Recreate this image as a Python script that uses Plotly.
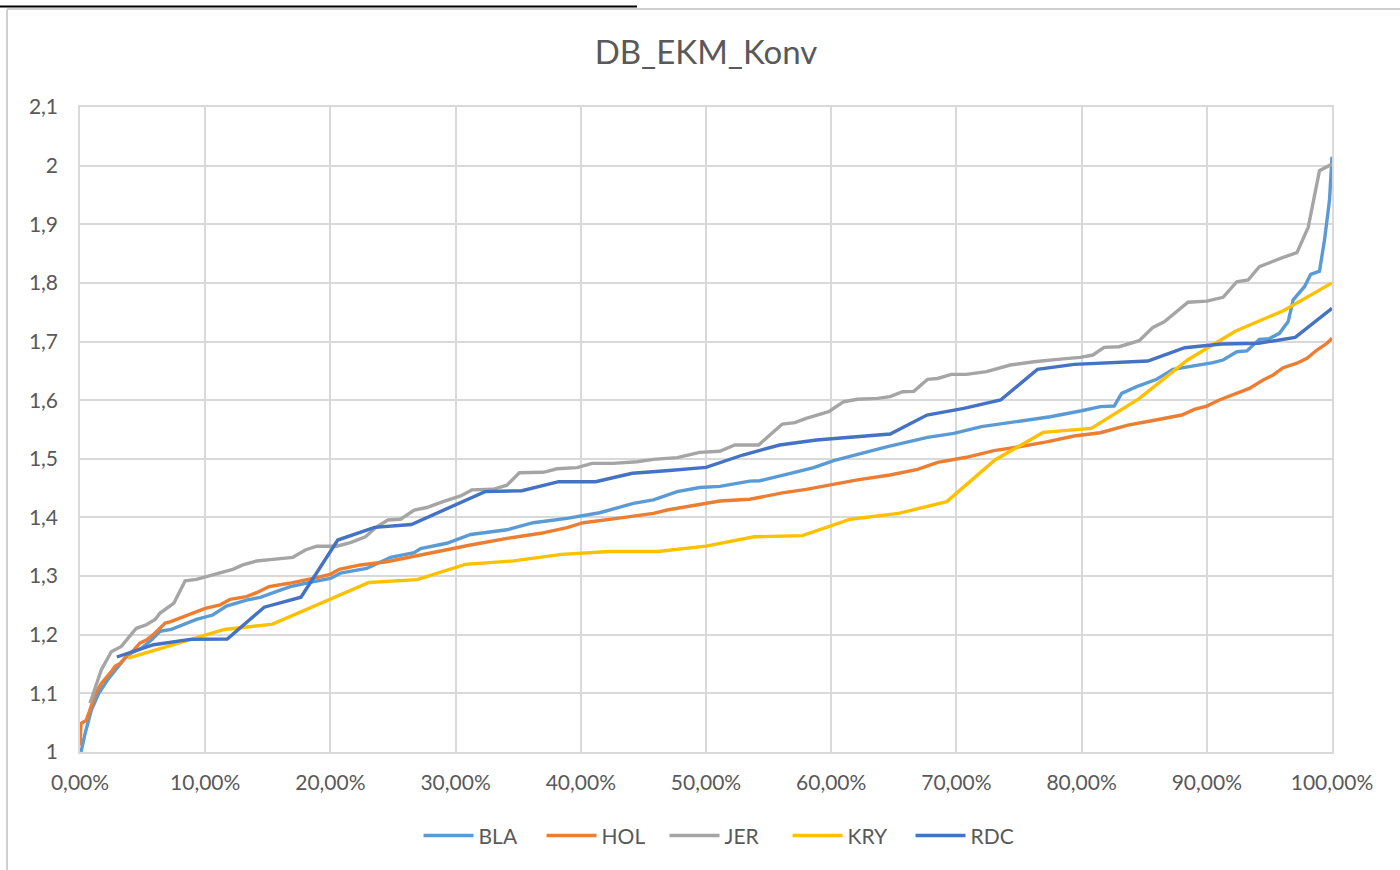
import plotly.graph_objects as go

# ---- data (x in percent, y values) ----
bla_x = [0.08, 0.4, 0.9, 1.5, 2.3, 3.1, 3.6, 4.1, 4.9, 5.7, 6.4, 7.3, 9.3, 10.6, 11.7, 13.3, 14.4, 16.0,
         16.8, 18.6, 20.0, 20.8, 22.9, 24.8, 26.7, 27.2, 29.3, 31.2, 34.1, 36.2, 38.9, 41.5, 44.2, 45.8,
         47.7, 49.5, 51.1, 53.5, 54.3, 56.5, 58.6, 60.2, 62.1, 64.5, 67.7, 69.8, 72.0, 75.1, 77.5, 80.0,
         81.5, 82.6, 83.2, 84.4, 86.0, 87.3, 88.7, 90.5, 91.3, 92.4, 93.2, 94.2, 95.0, 95.8, 96.5, 96.9,
         97.8, 98.3, 99.0, 99.4, 99.8, 100.0]
bla_y = [1.0, 1.031, 1.071, 1.1, 1.126, 1.146, 1.16, 1.169, 1.177, 1.191, 1.206, 1.209, 1.226, 1.2336,
         1.249, 1.259, 1.2638, 1.276, 1.282, 1.2904, 1.296, 1.305, 1.313, 1.332, 1.34, 1.347, 1.356, 1.371,
         1.379, 1.391, 1.3985, 1.408, 1.424, 1.43, 1.444, 1.451, 1.453, 1.462, 1.4627, 1.474, 1.485, 1.497,
         1.508, 1.5207, 1.5366, 1.5435, 1.5548, 1.565, 1.5718, 1.582, 1.589, 1.59, 1.6117, 1.623, 1.6356,
         1.6526, 1.657, 1.664, 1.6685, 1.6826, 1.684, 1.7038, 1.705, 1.714, 1.734, 1.771, 1.7935, 1.8146,
         1.82, 1.873, 1.941, 2.015]

hol_x = [0.0, 0.08, 0.5, 0.9, 1.25, 1.7, 2.1, 2.5, 2.8, 3.2, 3.7, 4.3, 4.8, 5.3, 6.0, 6.8, 7.2, 8.2, 9.0,
         10.0, 11.2, 12.0, 13.3, 14.1, 15.1, 16.7, 18.6, 20.0, 20.7, 22.4, 24.5, 26.7, 29.3, 31.2, 34.1,
         36.8, 38.9, 40.2, 42.9, 45.8, 46.9, 50.0, 51.1, 53.5, 56.1, 58.0, 60.2, 62.1, 64.7, 66.9, 68.5,
         70.8, 73.0, 75.1, 77.2, 79.4, 81.5, 83.7, 85.5, 88.0, 89.0, 90.0, 91.0, 92.4, 93.4, 94.5, 95.3,
         96.1, 97.2, 98.0, 98.8, 99.6, 100.0]
hol_y = [1.011, 1.0486, 1.054, 1.08, 1.1, 1.117, 1.126, 1.137, 1.146, 1.151, 1.163, 1.174, 1.186, 1.191,
         1.203, 1.22, 1.222, 1.23, 1.236, 1.245, 1.251, 1.2604, 1.265, 1.2717, 1.282, 1.2877, 1.296, 1.303,
         1.3115, 1.319, 1.3245, 1.334, 1.3445, 1.353, 1.3644, 1.373, 1.3825, 1.391, 1.3985, 1.407, 1.4127,
         1.424, 1.428, 1.431, 1.442, 1.448, 1.457, 1.464, 1.4724, 1.482, 1.494, 1.5026, 1.514, 1.5207,
         1.529, 1.5389, 1.5445, 1.5576, 1.5645, 1.5747, 1.5844, 1.59, 1.6003, 1.6127, 1.62, 1.6344, 1.643,
         1.6554, 1.663, 1.6714, 1.6855, 1.697, 1.7055]

jer_x = [0.8, 1.2, 1.7, 2.5, 3.3, 4.5, 5.3, 6.0, 6.4, 7.5, 8.4, 9.3, 10.1, 11.2, 12.2, 13.0, 14.1, 15.4,
         17.0, 18.0, 18.9, 20.5, 21.6, 22.8, 23.7, 24.6, 25.6, 26.7, 27.7, 29.0, 30.4, 31.3, 33.0, 34.1,
         35.1, 37.0, 38.1, 39.7, 40.9, 42.6, 44.5, 45.8, 47.7, 49.5, 51.1, 52.3, 54.2, 55.1, 56.1, 57.1,
         58.0, 59.8, 61.0, 62.1, 63.7, 64.7, 65.7, 66.6, 67.7, 68.5, 69.6, 70.8, 72.4, 74.3, 76.2, 78.3,
         79.9, 80.9, 81.8, 83.0, 84.6, 85.7, 86.6, 88.5, 90.0, 91.3, 92.4, 93.3, 94.2, 96.1, 97.2, 98.1,
         99.0, 100.0]
jer_y = [1.083, 1.109, 1.14, 1.171, 1.18, 1.211, 1.217, 1.226, 1.237, 1.254, 1.292, 1.2945, 1.299, 1.3065,
         1.3115, 1.319, 1.3257, 1.3286, 1.332, 1.3445, 1.351, 1.351, 1.357, 1.367, 1.384, 1.3956, 1.397,
         1.4127, 1.417, 1.427, 1.4366, 1.447, 1.448, 1.455, 1.4763, 1.477, 1.483, 1.485, 1.4923, 1.4923,
         1.495, 1.499, 1.502, 1.511, 1.513, 1.5235, 1.5235, 1.5406, 1.5593, 1.5616, 1.569, 1.5803, 1.5974,
         1.6015, 1.603, 1.606, 1.6144, 1.615, 1.6356, 1.637, 1.644, 1.644, 1.6486, 1.66, 1.6656, 1.670,
         1.673, 1.677, 1.690, 1.6912, 1.7014, 1.7242, 1.7338, 1.767, 1.769, 1.7754, 1.802, 1.805, 1.8276,
         1.8436, 1.8515, 1.8948, 1.9913, 2.0027]

kry_x = [3.85, 7.69, 11.54, 15.38, 19.23, 23.08, 26.92, 30.77, 34.62, 38.46, 42.31, 46.15, 50.00, 53.85,
         57.69, 61.54, 65.38, 69.23, 73.08, 76.92, 80.77, 84.62, 88.46, 92.31, 96.15, 100.0]
kry_y = [1.16, 1.185, 1.209, 1.218, 1.254, 1.289, 1.294, 1.320, 1.326, 1.337, 1.342, 1.342, 1.351, 1.367,
         1.369, 1.397, 1.407, 1.427, 1.498, 1.545, 1.552, 1.603, 1.6685, 1.718, 1.753, 1.800]

rdc_x = [2.94, 5.88, 8.82, 11.76, 14.71, 17.65, 20.59, 23.53, 26.47, 29.41, 32.35, 35.29, 38.24, 41.18,
         44.12, 47.06, 50.00, 52.94, 55.88, 58.82, 61.76, 64.71, 67.65, 70.59, 73.53, 76.47, 79.41, 82.35,
         85.29, 88.24, 91.18, 94.12, 97.06, 100.0]
rdc_y = [1.162, 1.183, 1.192, 1.1926, 1.247, 1.264, 1.3615, 1.383, 1.388, 1.416, 1.444, 1.4456, 1.461,
         1.461, 1.4753, 1.480, 1.4855, 1.5065, 1.5235, 1.532, 1.5366, 1.5423, 1.5747, 1.586, 1.6003,
         1.6526, 1.661, 1.6635, 1.6668, 1.6895, 1.6958, 1.697, 1.7072, 1.7566]

series = [
    ("BLA", bla_x, bla_y, "#5B9BD5"),
    ("HOL", hol_x, hol_y, "#ED7D31"),
    ("JER", jer_x, jer_y, "#A5A5A5"),
    ("KRY", kry_x, kry_y, "#FFC000"),
    ("RDC", rdc_x, rdc_y, "#4472C4"),
]

x_ticks = [0, 0.1, 0.2, 0.3, 0.4, 0.5, 0.6, 0.7, 0.8, 0.9, 1.0]
y_ticks = [1, 1.1, 1.2, 1.3, 1.4, 1.5, 1.6, 1.7, 1.8, 1.9, 2, 2.1]

FONT = "Lato, 'Open Sans', sans-serif"
TXT = "#595959"
GRID = "#D9D9D9"

fig = go.Figure()
for name, xs, ys, col in series:
    fig.add_trace(go.Scatter(
        x=[v / 100 for v in xs], y=ys, name=name, mode="lines",
        line=dict(color=col, width=3.4),
    ))

fig.update_layout(
    width=1400, height=870,
    paper_bgcolor="white", plot_bgcolor="white",
    margin=dict(l=80, r=68, t=107, b=118),
    separators=", ",
    font=dict(family=FONT, color=TXT, size=21),
    title=dict(text="DB_EKM_Konv", x=0.5, xref="paper", xanchor="center",
               y=1 - 52 / 870, yanchor="middle",
               font=dict(family=FONT, size=33, color=TXT)),
    showlegend=True,
    legend=dict(orientation="h", x=0.516, xanchor="center", y=-0.13, yanchor="middle",
                itemwidth=50, entrywidth=58, entrywidthmode="pixels",
                font=dict(family=FONT, size=21, color=TXT), traceorder="normal"),
    xaxis=dict(range=[0, 1], tickvals=x_ticks, tickformat=".2%", showgrid=True,
               gridcolor=GRID, gridwidth=1.5, showline=True, linecolor=GRID, linewidth=1.5,
               mirror=True, zeroline=False, ticks="", ticklabelstandoff=11,
               tickfont=dict(family=FONT, size=21, color=TXT)),
    yaxis=dict(range=[1, 2.1], tickvals=y_ticks, showgrid=True,
               gridcolor=GRID, gridwidth=1.5, showline=True, linecolor=GRID, linewidth=1.5,
               mirror=True, zeroline=False, ticks="", ticklabelstandoff=16,
               tickfont=dict(family=FONT, size=21, color=TXT)),
)

# chart-area border and the cut-off line above it
fig.add_shape(type="line", xref="paper", yref="paper",
              x0=(7 - 80) / 1252, x1=(7 - 80) / 1252, y0=(752 - 9) / 645, y1=(752 - 880) / 645,
              line=dict(color="#D0D0D0", width=2))
fig.add_shape(type="line", xref="paper", yref="paper",
              x0=(7 - 80) / 1252, x1=(1410 - 80) / 1252, y0=(752 - 9) / 645, y1=(752 - 9) / 645,
              line=dict(color="#D0D0D0", width=2))
fig.add_shape(type="line", xref="paper", yref="paper",
              x0=(0 - 80) / 1252, x1=(637 - 80) / 1252, y0=(752 - 6.5) / 645, y1=(752 - 6.5) / 645,
              line=dict(color="#000000", width=2))

fig.write_html("out.html", config={"displayModeBar": False},
               post_script="document.body.style.margin='0';document.body.style.overflow='hidden';")
